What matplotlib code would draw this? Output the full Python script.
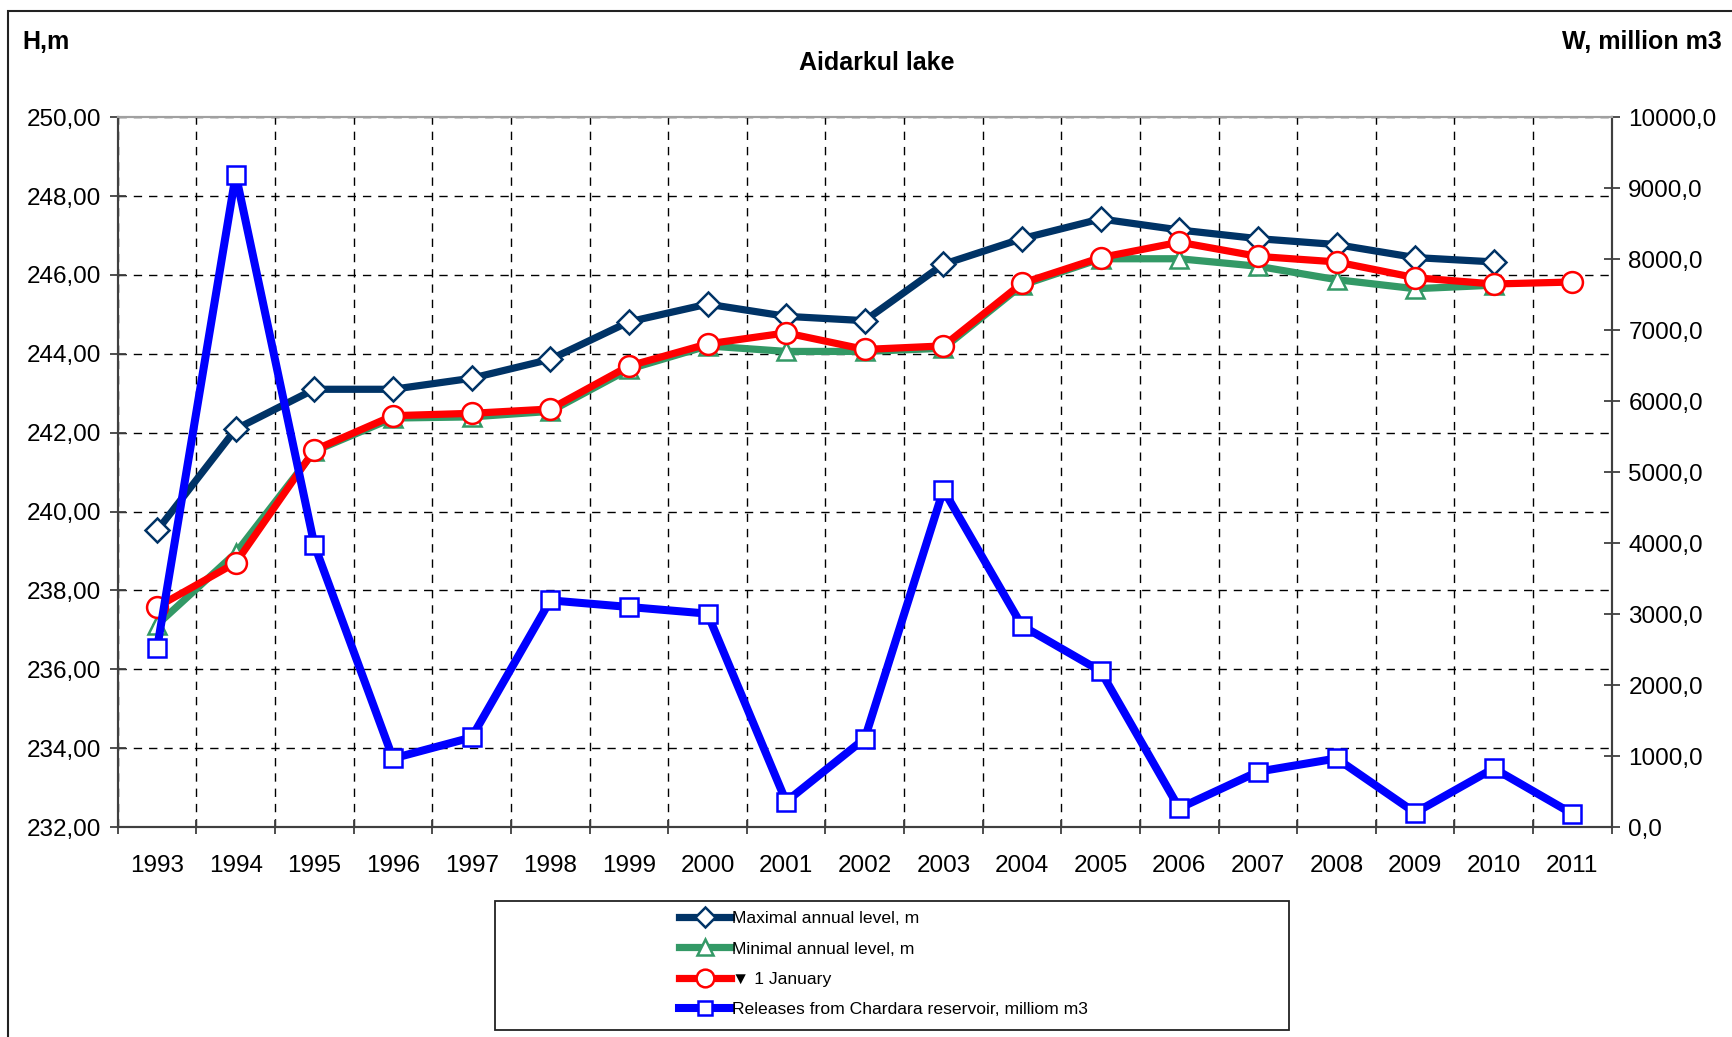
import numpy as np
import matplotlib.pyplot as plt
from matplotlib.patches import Rectangle
from matplotlib.ticker import FuncFormatter, FixedLocator

plt.rcParams['font.family'] = ['Liberation Sans', 'DejaVu Sans']

years = [str(y) for y in range(1993, 2012)]

level_max = [239.52, 242.09, 243.10, 243.10, 243.38, 243.86, 244.81, 245.26, 244.95,
             244.84, 246.27, 246.92, 247.42, 247.14, 246.92, 246.77, 246.44, 246.33, np.nan]
level_min = [237.13, 238.95, 241.53, 242.37, 242.40, 242.54, 243.61, 244.20, 244.06,
             244.06, 244.14, 245.74, 246.41, 246.41, 246.22, 245.88, 245.65, 245.74, np.nan]
level_jan = [237.58, 238.70, 241.56, 242.43, 242.49, 242.60, 243.69, 244.25, 244.53,
             244.11, 244.20, 245.79, 246.44, 246.83, 246.47, 246.33, 245.93, 245.77, 245.82]
releases = [2523, 9190, 3972, 966, 1262, 3193, 3100, 3006, 358,
            1246, 4751, 2835, 2196, 265, 779, 966, 202, 826, 187]

x = np.arange(len(years))

fig = plt.figure(figsize=(17.33, 10.37), dpi=100)
ax = fig.add_axes([0.068, 0.2025, 0.862, 0.6845])
ax2 = ax.twinx()

axis_col = '#404040'
ax.set_xlim(-0.5, len(years) - 0.5)
ax.set_ylim(232, 250)
ax2.set_ylim(0, 10000)

ax.set_yticks(np.arange(232, 251, 2))
ax.yaxis.set_major_formatter(FuncFormatter(lambda v, p: f'{v:.2f}'.replace('.', ',')))
ax2.set_yticks(np.arange(0, 10001, 1000))
ax2.yaxis.set_major_formatter(FuncFormatter(lambda v, p: f'{v:.1f}'.replace('.', ',')))

ax.xaxis.set_major_locator(FixedLocator(np.arange(-0.5, len(years), 1)))
ax.xaxis.set_minor_locator(FixedLocator(x))
ax.set_xticklabels([])
ax.set_xticklabels(years, minor=True)
ax.tick_params(axis='x', which='minor', length=0, pad=20, labelsize=17.5)
ax.tick_params(axis='x', which='major', direction='inout', length=10, width=1.3, color=axis_col)
ax.tick_params(axis='y', direction='inout', length=12, width=1.3, color=axis_col, labelsize=17.5, pad=6)
ax2.tick_params(axis='y', direction='inout', length=12, width=1.3, color=axis_col, labelsize=17.5, pad=6)

ax.grid(True, which='major', color='black', linestyle=(0, (6, 5)), linewidth=1.0)
for a in (ax, ax2):
    for s in ('left', 'right', 'bottom'):
        a.spines[s].set_color(axis_col)
        a.spines[s].set_linewidth(1.5)
    a.spines['top'].set_color('#a0a0a0')
    a.spines['top'].set_linewidth(1.5)

l1, = ax.plot(x, level_max, color='#003366', lw=5.2, marker='D', ms=12,
              mfc='white', mec='#003366', mew=1.8, label='Maximal annual level, m')
l2, = ax.plot(x, level_min, color='#339966', lw=5.2, marker='^', ms=13,
              mfc='white', mec='#339966', mew=1.8, label='Minimal annual level, m')
l3, = ax.plot(x, level_jan, color='#ff0000', lw=5.2, marker='o', ms=15,
              mfc='white', mec='#ff0000', mew=1.8, label='\u25bc 1 January')
l4, = ax2.plot(x, releases, color='#0000ff', lw=5.8, marker='s', ms=12.5,
               mfc='white', mec='#0000ff', mew=1.8,
               label='Releases from Chardara reservoir, milliom m3')

fig.text(0.5057, 0.939, 'Aidarkul lake', ha='center', va='center', fontsize=18, fontweight='bold')
fig.text(0.0128, 0.9595, 'H,m', ha='left', va='center', fontsize=18, fontweight='bold')
fig.text(0.9935, 0.9595, 'W, million m3', ha='right', va='center', fontsize=18, fontweight='bold')

# outer chart frame
fig.patches.append(Rectangle((0.0046, -0.1), 1.2, 1.0894, transform=fig.transFigure,
                             fill=False, edgecolor='#222222', lw=1.5))

# legend box
fig.patches.append(Rectangle((0.2857, 0.0068), 0.4582, 0.1244, transform=fig.transFigure,
                             fill=False, edgecolor='#222222', lw=1.3))
leg = fig.legend(handles=[l1, l2, l3, l4], loc='center left', bbox_to_anchor=(0.3876, 0.0704),
                 frameon=False, fontsize=12.6, handlelength=3.0, handletextpad=0.05,
                 labelspacing=0.85, borderaxespad=0, markerscale=0.85)

fig.savefig('out.png', dpi=100)
